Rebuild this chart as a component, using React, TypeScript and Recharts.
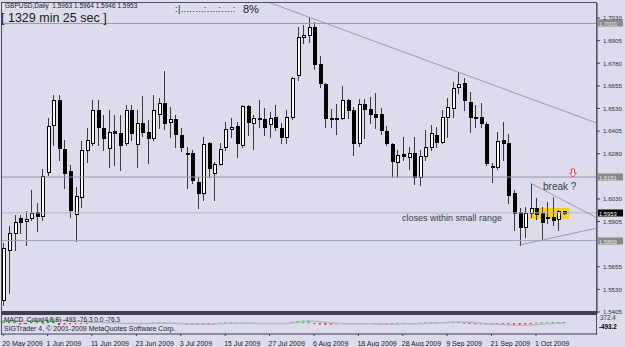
import React from "react";
import { Bar, Cell, ComposedChart, Line, ReferenceArea, ReferenceDot, ReferenceLine, XAxis, YAxis } from "recharts";

// GBPUSD daily candles, 20 May 2009 .. 8 Oct 2009
const openP = [
  1.5471, 1.5748, 1.5842, 1.5925, 1.5908, 1.5925, 1.5958, 1.5936, 1.6179, 1.6439,
  1.6577, 1.6306, 1.6184, 1.5947, 1.6041, 1.6301, 1.6339, 1.6522, 1.6422, 1.6312,
  1.6406, 1.6395, 1.6339, 1.6522, 1.6334, 1.6450, 1.6400, 1.6367, 1.6499, 1.6560,
  1.6455, 1.6472, 1.6383, 1.6284, 1.6284, 1.6124, 1.6063, 1.6339, 1.6173, 1.6223,
  1.6317, 1.6416, 1.6433, 1.6328, 1.6544, 1.6450, 1.6477, 1.6472, 1.6444, 1.6483,
  1.6422, 1.6372, 1.6483, 1.6715, 1.6925, 1.6936, 1.6980, 1.6776, 1.6665, 1.6478,
  1.6477, 1.6477, 1.6577, 1.6522, 1.6339, 1.6555, 1.6527, 1.6499, 1.6499, 1.6406,
  1.6334, 1.6234, 1.6278, 1.6262, 1.6284, 1.6151, 1.6267, 1.6317, 1.6383, 1.6345,
  1.6483, 1.6533, 1.6649, 1.6671, 1.6566, 1.6483, 1.6483, 1.6444, 1.6212, 1.6207,
  1.6356, 1.6339, 1.6063, 1.5958, 1.5875, 1.5952, 1.5980, 1.5952, 1.5930, 1.5930,
  1.5919, 1.5963,
];
const highP = [
  1.5786, 1.5880, 1.5941, 1.5941, 1.5963, 1.6079, 1.6008, 1.6196, 1.6477, 1.6604,
  1.6604, 1.6356, 1.6218, 1.6096, 1.6350, 1.6422, 1.6577, 1.6577, 1.6494, 1.6522,
  1.6494, 1.6494, 1.6549, 1.6549, 1.6522, 1.6599, 1.6466, 1.6604, 1.6588, 1.6737,
  1.6538, 1.6494, 1.6422, 1.6317, 1.6301, 1.6151, 1.6372, 1.6345, 1.6234, 1.6339,
  1.6455, 1.6477, 1.6455, 1.6549, 1.6549, 1.6494, 1.6577, 1.6533, 1.6510, 1.6549,
  1.6450, 1.6522, 1.6704, 1.6980, 1.6991, 1.7036, 1.7008, 1.6820, 1.6671, 1.6527,
  1.6555, 1.6654, 1.6580, 1.6538, 1.6582, 1.6582, 1.6593, 1.6615, 1.6533, 1.6433,
  1.6339, 1.6301, 1.6372, 1.6317, 1.6372, 1.6301, 1.6411, 1.6439, 1.6428, 1.6522,
  1.6588, 1.6676, 1.6731, 1.6698, 1.6621, 1.6549, 1.6560, 1.6455, 1.6229, 1.6400,
  1.6455, 1.6389, 1.6079, 1.5980, 1.5985, 1.6118, 1.6035, 1.5985, 1.6013, 1.6041,
  1.5969, 1.5964,
];
const lowP = [
  1.5444, 1.5510, 1.5748, 1.5842, 1.5775, 1.5914, 1.5853, 1.5914, 1.6162, 1.6328,
  1.6245, 1.6090, 1.5930, 1.5798, 1.5985, 1.6234, 1.6328, 1.6328, 1.6301, 1.6207,
  1.6218, 1.6190, 1.6328, 1.6356, 1.6207, 1.6378, 1.6229, 1.6356, 1.6422, 1.6416,
  1.6372, 1.6317, 1.6295, 1.6090, 1.6118, 1.5980, 1.6024, 1.6151, 1.6024, 1.6218,
  1.6301, 1.6372, 1.6262, 1.6317, 1.6383, 1.6306, 1.6428, 1.6383, 1.6372, 1.6411,
  1.6339, 1.6339, 1.6472, 1.6687, 1.6892, 1.6897, 1.6748, 1.6649, 1.6428, 1.6428,
  1.6389, 1.6472, 1.6477, 1.6273, 1.6322, 1.6367, 1.6450, 1.6422, 1.6389, 1.6328,
  1.6151, 1.6151, 1.6245, 1.6196, 1.6113, 1.6107, 1.6245, 1.6301, 1.6317, 1.6339,
  1.6372, 1.6483, 1.6615, 1.6522, 1.6400, 1.6428, 1.6428, 1.6218, 1.6124, 1.6196,
  1.6245, 1.6008, 1.5858, 1.5775, 1.5820, 1.5930, 1.5919, 1.5803, 1.5897, 1.5886,
  1.5858, 1.5946,
];
const closeP = [
  1.5759, 1.5842, 1.5903, 1.5903, 1.5919, 1.5952, 1.5936, 1.6157, 1.6433, 1.6577,
  1.6312, 1.6173, 1.5969, 1.6046, 1.6301, 1.6356, 1.6522, 1.6428, 1.6367, 1.6400,
  1.6395, 1.6328, 1.6522, 1.6395, 1.6450, 1.6400, 1.6367, 1.6522, 1.6560, 1.6450,
  1.6472, 1.6389, 1.6317, 1.6278, 1.6135, 1.6063, 1.6334, 1.6201, 1.6223, 1.6306,
  1.6416, 1.6428, 1.6339, 1.6544, 1.6455, 1.6477, 1.6472, 1.6428, 1.6477, 1.6428,
  1.6372, 1.6483, 1.6698, 1.6925, 1.6936, 1.6980, 1.6776, 1.6671, 1.6477, 1.6475,
  1.6472, 1.6577, 1.6522, 1.6339, 1.6555, 1.6527, 1.6499, 1.6483, 1.6411, 1.6339,
  1.6240, 1.6273, 1.6267, 1.6284, 1.6151, 1.6267, 1.6317, 1.6395, 1.6345, 1.6483,
  1.6538, 1.6643, 1.6665, 1.6577, 1.6483, 1.6477, 1.6450, 1.6229, 1.6207, 1.6350,
  1.6339, 1.6052, 1.5952, 1.5875, 1.5952, 1.5980, 1.5947, 1.5903, 1.5925, 1.5914,
  1.5962, 1.5953,
];

// MACD histogram and its signal line (lower window)
const macdHist = [
  120, 140, 150, -60, -40, 80, 100, 110, 150, 200,
  -80, -60, -50, -40, -30, -30, 40, 50, 40, 30,
  -30, -40, -30, -20, -30, -20, -30, 30, 40, 30,
  20, 20, -40, -60, -70, -80, -60, -50, -40, 20,
  30, 40, 30, 30, 20, 20, -20, -20, -30, -20,
  -20, -10, 60, 100, 120, 130, -40, -60, -80, -70,
  -50, -30, -20, -20, -30, -20, -30, -40, -40, -50,
  -50, 20, 20, -20, -30, 20, 30, 40, 40, 50,
  60, 70, 60, -30, -40, -50, -50, -60, -70, -60,
  -50, -90, -110, -120, -60, -40, 30, 40, 40, 50,
  50, 50,
];
const macdSignal = [
  80, 90, 100, 100, 100, 110, 120, 130, 140, 150,
  140, 120, 100, 80, 60, 50, 40, 40, 30, 20,
  10, 0, -10, -10, -10, -10, -10, 0, 0, 0,
  0, -10, -20, -30, -40, -50, -50, -50, -40, -30,
  -20, -10, 0, 0, 0, 0, -10, -10, -20, -20,
  -20, -10, 10, 40, 70, 90, 90, 70, 40, 10,
  -10, -20, -30, -30, -30, -30, -30, -40, -40, -40,
  -50, -40, -30, -30, -30, -20, -10, 0, 10, 20,
  30, 40, 50, 50, 40, 20, 0, -20, -40, -50,
  -60, -70, -80, -90, -90, -80, -60, -40, -20, -10,
  0, 10,
];

const dateTicks = [0, 8, 16, 24, 32, 40, 48, 56, 64, 72, 80, 88, 96];
const dateLabels = [
  "20 May 2009", "1 Jun 2009", "11 Jun 2009", "23 Jun 2009", "3 Jul 2009",
  "15 Jul 2009", "27 Jul 2009", "6 Aug 2009", "18 Aug 2009", "28 Aug 2009",
  "9 Sep 2009", "21 Sep 2009", "1 Oct 2009",
];

// 1.5780 and 1.6155 sit under the level tags, so they are not listed
const priceTicks = [
  1.5405, 1.553, 1.5655, 1.5905, 1.603, 1.628, 1.6405, 1.653,
  1.6655, 1.678, 1.6905, 1.703,
];
const levels = [1.7, 1.6151, 1.58];
const bid = 1.5953;

// trend line through two highs, triangle around the last bars
const trendHighs = [
  { i: 55, p: 1.7036 },
  { i: 82, p: 1.6731 },
];
const triUpper = [
  { i: 95, p: 1.6118 },
  { i: 107, p: 1.5925 },
];
const triLower = [
  { i: 93, p: 1.5775 },
  { i: 107, p: 1.5869 },
];

const X_DOMAIN: [number, number] = [-0.4, 107];
const Y_DOMAIN: [number, number] = [1.5394, 1.7113];

const rows = openP.map((o, i) => ({
  i,
  open: o,
  high: highP[i],
  low: lowP[i],
  close: closeP[i],
  range: [lowP[i], highP[i]],
  macd: macdHist[i],
  signal: macdSignal[i],
}));

const font = "'Liberation Sans', Arial, sans-serif";

function Candle(props: any) {
  const { x, y, width, height, payload } = props;
  if (!payload) return null;
  const { open, close, high, low } = payload;
  const top = Math.min(y, y + height);
  const h = Math.abs(height);
  const span = high - low || 1e-9;
  const py = (v: number) => top + ((high - v) / span) * h;
  const c = Math.round(x + width / 2);
  const b1 = Math.round(Math.min(py(open), py(close)));
  const b2 = Math.round(Math.max(py(open), py(close)));
  const up = close >= open;
  return (
    <g shapeRendering="crispEdges">
      <line x1={c + 0.5} x2={c + 0.5} y1={Math.round(top)} y2={Math.round(top + h) + 1} stroke="#3a3a3a" />
      <rect
        x={c - 0.5}
        y={b1 + 0.5}
        width={3}
        height={Math.max(b2 - b1, 1)}
        fill={up ? "#ffffff" : "#000000"}
        stroke="#000000"
      />
    </g>
  );
}

function PriceTag(props: any) {
  const { viewBox, text, bg, fg } = props;
  if (!viewBox) return null;
  const x = viewBox.x + viewBox.width + 1;
  const y = Math.round(viewBox.y);
  return (
    <g>
      <rect x={x} y={y - 3.5} width={25} height={7} fill={bg} />
      <text x={x + 1} y={y + 2.5} fontSize={5.8} fill={fg} fontFamily={font}>
        {text}
      </text>
    </g>
  );
}

function PriceTick(props: any) {
  const { x, y, payload } = props;
  const top = payload.value === priceTicks[priceTicks.length - 1];
  return (
    <text x={x + 1} y={y + (top ? 1.5 : 2.3)} fontSize={6.2} fill="#303040" fontFamily={font}>
      {payload.value.toFixed(4)}
    </text>
  );
}

function DateTick(props: any) {
  const { x, y, payload } = props;
  const k = dateTicks.indexOf(payload.value);
  return (
    <text x={x - 1} y={y + 8} fontSize={7} fill="#202030" fontFamily={font}>
      {dateLabels[k]}
    </text>
  );
}

function DownArrow(props: any) {
  const { cx, cy } = props;
  const x = Math.round(cx);
  const y = Math.round(cy);
  return (
    <path
      d={`M${x - 1.5},${y - 4} h3 v4 h2 l-3.5,4 l-3.5,-4 h2 z`}
      fill="#ffffff"
      stroke="#ff3b3b"
      strokeWidth={1}
    />
  );
}

function extend(pts: { i: number; p: number }[], from: number, to: number) {
  const k = (pts[1].p - pts[0].p) / (pts[1].i - pts[0].i);
  return [
    { x: from, y: pts[0].p + k * (from - pts[0].i) },
    { x: to, y: pts[0].p + k * (to - pts[0].i) },
  ];
}

export default function App() {
  return (
    <div
      style={{
        position: "absolute",
        left: 0,
        top: 0,
        width: 625,
        height: 347,
        background: "#dcdcec",
        fontFamily: font,
        overflow: "hidden",
      }}
    >
      <div style={{ position: "absolute", left: 0, top: 0 }}>
        <ComposedChart width={625} height={315} data={rows} margin={{ top: 3, right: 0, bottom: 1, left: 1 }}>
          <XAxis type="number" dataKey="i" domain={X_DOMAIN} allowDataOverflow hide />
          <YAxis
            orientation="right"
            domain={Y_DOMAIN}
            allowDataOverflow
            ticks={priceTicks}
            interval={0}
            width={28}
            tickSize={3}
            tick={<PriceTick />}
            axisLine={{ stroke: "#404050" }}
            tickLine={{ stroke: "#404050" }}
          />
          <ReferenceArea
            x1={94.9}
            x2={102}
            y1={1.5919}
            y2={1.598}
            fill="#f8d010"
            fillOpacity={1}
            stroke="none"
            ifOverflow="hidden"
          />
          {levels.map((v) => (
            <ReferenceLine key={v} y={v} stroke={v === 1.58 ? "#a2a8c4" : "#9898a8"} strokeWidth={1} />
          ))}
          <ReferenceLine y={bid} stroke="#b4b4c4" strokeWidth={1} />
          <ReferenceLine segment={extend(trendHighs, 40, 107)} stroke="#9a9aaa" ifOverflow="hidden" />
          <ReferenceLine segment={extend(triUpper, 95, 107)} stroke="#9a9aaa" ifOverflow="hidden" />
          <ReferenceLine segment={extend(triLower, 93, 107)} stroke="#9a9aaa" ifOverflow="hidden" />
          <Bar dataKey="range" barSize={4} isAnimationActive={false} shape={(p: any) => <Candle {...p} />} />
          <ReferenceDot x={102.6} y={1.6172} r={4} ifOverflow="visible" shape={(p: any) => <DownArrow {...p} />} />
          {levels.map((v) => (
            <ReferenceLine
              key={"t" + v}
              y={v}
              stroke="none"
              label={(p: any) => <PriceTag {...p} text={v.toFixed(4)} bg="#8a8a8a" fg="#e8e8e8" />}
            />
          ))}
          <ReferenceLine
            y={bid}
            stroke="none"
            label={(p: any) => <PriceTag {...p} text={bid.toFixed(4)} bg="#000000" fg="#ffffff" />}
          />
        </ComposedChart>
      </div>

      <div style={{ position: "absolute", left: 0, top: 314 }}>
        <ComposedChart width={625} height={33} data={rows} margin={{ top: 1, right: 28, bottom: 0, left: 1 }}>
          <XAxis
            type="number"
            dataKey="i"
            domain={X_DOMAIN}
            allowDataOverflow
            ticks={dateTicks}
            interval={0}
            height={13}
            tickSize={2}
            tick={<DateTick />}
            axisLine={{ stroke: "#404050" }}
            tickLine={{ stroke: "#404050" }}
          />
          <YAxis hide domain={[-493.2, 372.4]} allowDataOverflow />
          <Line
            dataKey="signal"
            type="monotone"
            stroke="#b8b8c4"
            strokeWidth={1.5}
            dot={false}
            isAnimationActive={false}
          />
          <Bar dataKey="macd" barSize={2} isAnimationActive={false}>
            {rows.map((r) => (
              <Cell key={r.i} fill={r.macd >= 0 ? "#00c000" : "#ff1010"} />
            ))}
          </Bar>
        </ComposedChart>
      </div>

      {/* panel frames */}
      <div style={{ position: "absolute", left: 1, top: 2, width: 596, height: 311, border: "1px solid #505060", borderBottom: "2px solid #404050", boxSizing: "border-box", pointerEvents: "none" }} />
      <div style={{ position: "absolute", left: 1, top: 313, width: 596, height: 22, borderLeft: "1px solid #505060", borderRight: "1px solid #505060", borderTop: "2px solid #404050", boxSizing: "border-box", pointerEvents: "none" }} />

      {/* header texts */}
      <div style={{ position: "absolute", left: 5, top: 2, fontSize: 6.5, color: "#202030", whiteSpace: "pre" }}>
        {"GBPUSD,Daily  1.5963 1.5964 1.5946 1.5953"}
      </div>
      <div style={{ position: "absolute", left: 1, top: 11, fontSize: 12.5, lineHeight: "15px", color: "#1a1a1a", whiteSpace: "pre" }}>
        {"[ 1329 min 25 sec ]"}
      </div>
      <div style={{ position: "absolute", left: 175, top: 3, fontSize: 9, lineHeight: "12px", color: "#202030", whiteSpace: "pre", letterSpacing: 0.4 }}>
        {":|........:....:....:"}
      </div>
      <div style={{ position: "absolute", left: 243, top: 3, fontSize: 11, lineHeight: "13px", color: "#202030" }}>8%</div>

      {/* annotations */}
      <div style={{ position: "absolute", left: 543, top: 181, fontSize: 10, lineHeight: "12px", color: "#3a3a4a" }}>break ?</div>
      <div style={{ position: "absolute", left: 402, top: 213, fontSize: 9, lineHeight: "11px", color: "#3a3a4a", whiteSpace: "pre" }}>
        closes within small range
      </div>

      {/* indicator window texts */}
      <div style={{ position: "absolute", left: 4, top: 316, fontSize: 6.5, lineHeight: "8px", color: "#202030", whiteSpace: "pre" }}>
        {"MACD_Color(4,8,8) -493 -76.3 0.0 -76.3"}
      </div>
      <div style={{ position: "absolute", left: 4, top: 325, fontSize: 7, lineHeight: "8px", color: "#202030", whiteSpace: "pre" }}>
        {"SIGTrader 4, \u00a9 2001-2009 MetaQuotes Software Corp."}
      </div>
      <div style={{ position: "absolute", left: 600, top: 314, fontSize: 6.3, lineHeight: "8px", color: "#303040" }}>372.4</div>
      <div style={{ position: "absolute", left: 599, top: 323, fontSize: 6.3, lineHeight: "8px", color: "#000000", fontWeight: 700 }}>-493.2</div>
    </div>
  );
}
